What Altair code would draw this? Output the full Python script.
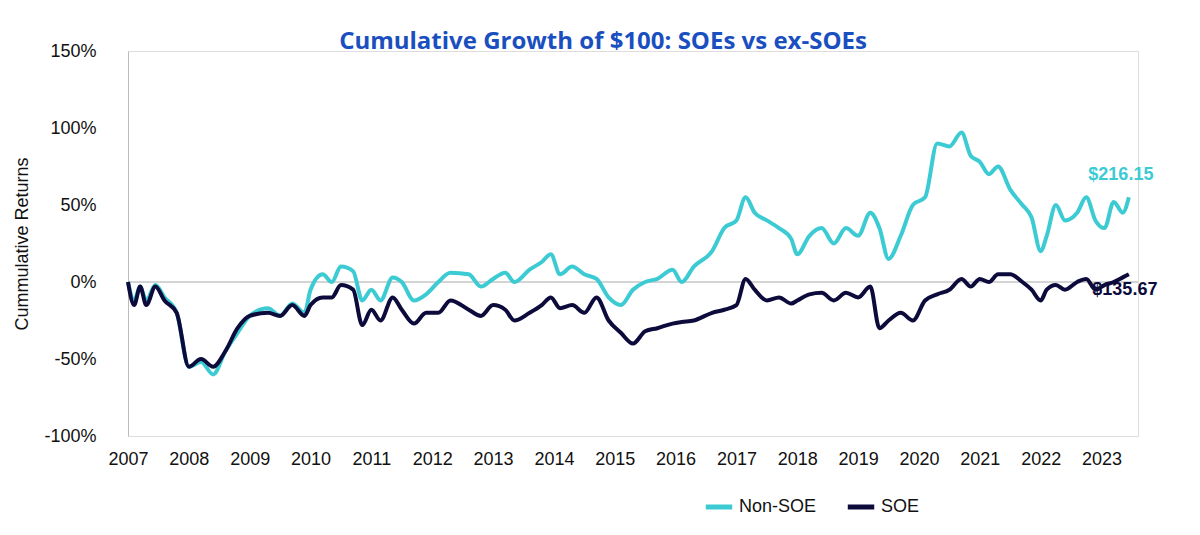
import pandas as pd
import altair as alt

years = [2007.0, 2007.1, 2007.2, 2007.3, 2007.45, 2007.6, 2007.8, 2008.0, 2008.2, 2008.4, 2008.6, 2008.8,
         2009.0, 2009.3, 2009.5, 2009.7, 2009.9, 2010.0, 2010.2, 2010.35, 2010.5, 2010.7, 2010.85,
         2011.0, 2011.15, 2011.35, 2011.5, 2011.7, 2011.9, 2012.1, 2012.3, 2012.6, 2012.8,
         2013.0, 2013.2, 2013.35, 2013.6, 2013.8, 2013.95, 2014.1, 2014.3, 2014.5, 2014.7, 2014.9,
         2015.1, 2015.3, 2015.5, 2015.7, 2015.95, 2016.1, 2016.3, 2016.6, 2016.8,
         2017.0, 2017.15, 2017.3, 2017.5, 2017.7, 2017.9, 2018.0, 2018.2, 2018.4, 2018.6, 2018.8,
         2019.0, 2019.2, 2019.35, 2019.5, 2019.7, 2019.9, 2020.1, 2020.3, 2020.5, 2020.7, 2020.85,
         2021.0, 2021.15, 2021.3, 2021.5, 2021.7, 2021.85, 2022.0, 2022.1, 2022.25, 2022.4, 2022.6,
         2022.75, 2022.9, 2023.05, 2023.2, 2023.35, 2023.45]
non_soe = [0, -12, -3, -12, -2, -10, -20, -55, -52, -60, -45, -33,
           -22, -17, -22, -14, -20, -5, 5, 0, 10, 7, -12,
           -5, -12, 3, 0, -12, -8, 0, 6, 5, -3,
           2, 6, 0, 8, 13, 18, 5, 10, 5, 2, -10,
           -15, -5, 0, 2, 8, 0, 10, 20, 35,
           40, 55, 45, 40, 35, 28, 18, 30, 35, 25, 35,
           30, 45, 35, 15, 30, 50, 55, 90, 88, 97, 82,
           78, 70, 75, 60, 50, 42, 20, 30, 50, 40, 45,
           55, 40, 35, 52, 45, 55]
soe = [0, -15, -3, -15, -3, -12, -20, -55, -50, -55, -45, -30,
       -22, -20, -22, -15, -22, -15, -10, -10, -2, -5, -28,
       -18, -25, -10, -18, -27, -20, -20, -12, -18, -22,
       -15, -18, -25, -20, -15, -10, -17, -15, -20, -10, -25,
       -33, -40, -32, -30, -27, -26, -25, -20, -18,
       -15, 2, -5, -12, -10, -14, -12, -8, -7, -12, -7,
       -10, -3, -30, -25, -20, -25, -12, -8, -5, 2, -3,
       2, 0, 5, 5, 0, -5, -12, -5, -2, -5, 0,
       2, -5, -2, 0, 3, 5]
series = ["Non-SOE", "SOE"]
colors = ["#3ccbd3", "#0c0b3b"]
end_labels = ["$216.15", "$135.67"]
x_ticks = list(range(2007, 2024))

df = pd.concat([
    pd.DataFrame({"Year": years, "Return": non_soe, "Series": "Non-SOE"}),
    pd.DataFrame({"Year": years, "Return": soe, "Series": "SOE"}),
])

font = "Liberation Sans"
x = alt.X("Year:Q", scale=alt.Scale(domain=[2007, 2023.6], nice=False, zero=False),
          axis=alt.Axis(values=x_ticks, format="d", title=None, domain=False, ticks=False, grid=False,
                        labelFlush=False, labelOverlap=False,
                        labelFontSize=18, labelColor="#111", labelPadding=14, labelFont=font))
y = alt.Y("Return:Q", scale=alt.Scale(domain=[-100, 150], nice=False),
          axis=alt.Axis(values=[-100, -50, 0, 50, 100, 150], labelExpr="datum.value + '%'",
                        title="Cummulative Returns", titleFontSize=18, titleFontWeight="normal",
                        titleColor="#111", labelFontSize=18, labelColor="#111", labelFont=font,
                        titleFont=font, domainColor="#bbb", ticks=False, grid=False,
                        labelPadding=32, titlePadding=12))

lines = alt.Chart(df).mark_line(strokeWidth=4, interpolate="monotone").encode(
    x=x, y=y,
    color=alt.Color("Series:N", scale=alt.Scale(domain=series, range=colors),
                    legend=alt.Legend(title=None, orient="none", legendX=575, legendY=440,
                                      direction="horizontal", symbolType="stroke", symbolStrokeWidth=5,
                                      symbolSize=700, labelFontSize=18, labelFont=font,
                                      labelColor="#111", columnPadding=20))
)

zero = alt.Chart(pd.DataFrame({"v": [0]})).mark_rule(color="#aaa", strokeWidth=1).encode(y="v:Q")

ends = pd.DataFrame({"Year": [years[-1], years[-1]], "Return": [non_soe[-1], soe[-1]],
                     "Series": series, "Label": end_labels})
end_text = alt.layer(*[
    alt.Chart(ends[ends.Series == s]).mark_text(fontSize=18, fontWeight="bold", align="center",
                                                dy=d, dx=dx, font=font).encode(
        x="Year:Q", y="Return:Q", text="Label:N", color=alt.value(c))
    for s, c, d, dx in zip(series, colors, [-22, 16], [-8, -4])
])

chart = alt.layer(zero, lines, end_text).properties(
    width=1010, height=385,
    title=alt.TitleParams("Cumulative Growth of $100: SOEs vs ex-SOEs", fontSize=24, fontWeight="bold",
                          color="#1a4fc0", font="Open Sans", anchor="middle", dx=-30, offset=-12),
).configure_view(strokeWidth=0).configure(padding={"left": 5, "top": 22, "right": 5, "bottom": 5})

chart.save("out.html", embed_options={"renderer": "svg", "actions": False})
